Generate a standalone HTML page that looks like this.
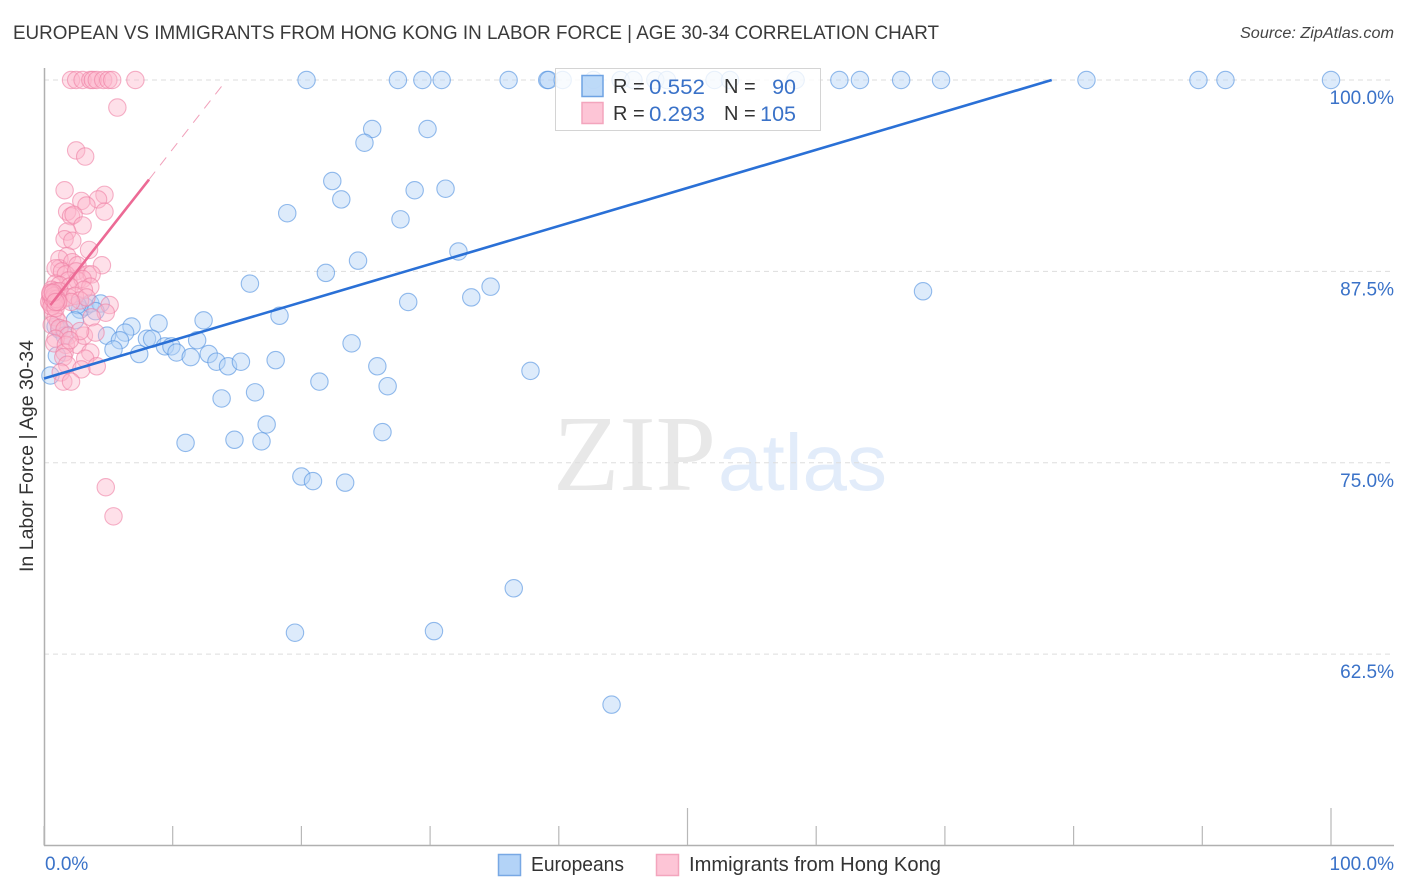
<!DOCTYPE html>
<html>
<head>
<meta charset="utf-8">
<title>European vs Immigrants from Hong Kong in Labor Force | Age 30-34 Correlation Chart</title>
<style>
html,body{margin:0;padding:0;background:#fff;width:1406px;height:892px;overflow:hidden}
svg{display:block}
text{font-family:"Liberation Sans",sans-serif}
</style>
</head>
<body>
<svg id="chart" width="1406" height="892" viewBox="0 0 1406 892" xmlns="http://www.w3.org/2000/svg">
<text x="13" y="39" font-size="19" fill="#3a3a3a" textLength="926" lengthAdjust="spacingAndGlyphs">EUROPEAN VS IMMIGRANTS FROM HONG KONG IN LABOR FORCE | AGE 30-34 CORRELATION CHART</text>
<text x="1394" y="38" font-size="15.5" font-style="italic" fill="#444" text-anchor="end" textLength="154" lengthAdjust="spacingAndGlyphs">Source: ZipAtlas.com</text>
<g id="watermark">
<text x="553" y="490" font-size="108" fill="#e8e8e8" textLength="163" lengthAdjust="spacingAndGlyphs" style="font-family:'Liberation Serif',serif">ZIP</text>
<text x="718" y="490" font-size="80" fill="#e2ecfa" textLength="169" lengthAdjust="spacingAndGlyphs">atlas</text>
</g>
<g id="grid"></g>
<g id="axes"></g>
<g id="points"></g>
<g id="trends"></g>
<g id="legendTop">
<rect x="555.5" y="68.5" width="265" height="62" fill="#fff" fill-opacity="0.8" stroke="#d4d4d4" stroke-width="1"/>
<rect x="582" y="75.5" width="21" height="21" fill="#b3d3f7" fill-opacity="0.85" stroke="#6fa3e3" stroke-width="1.5"/>
<rect x="582" y="102.5" width="21" height="21" fill="#fdc5d6" stroke="#f3a5bd" stroke-width="1.5"/>
<text x="613" y="93" font-size="20" fill="#333">R =</text>
<text x="649" y="94" font-size="21.5" fill="#3a72c8" textLength="56" lengthAdjust="spacingAndGlyphs">0.552</text>
<text x="724" y="93" font-size="20" fill="#333">N =</text>
<text x="796" y="94" font-size="21.5" fill="#3a72c8" text-anchor="end">90</text>
<text x="613" y="120" font-size="20" fill="#333">R =</text>
<text x="649" y="121" font-size="21.5" fill="#3a72c8" textLength="56" lengthAdjust="spacingAndGlyphs">0.293</text>
<text x="724" y="120" font-size="20" fill="#333">N =</text>
<text x="796" y="121" font-size="21.5" fill="#3a72c8" text-anchor="end">105</text>
</g>
<g id="legendBottom">
<rect x="498.5" y="854.5" width="22" height="21" fill="#b3d3f7" stroke="#78a8e4" stroke-width="1.5"/>
<text x="531" y="871" font-size="20" fill="#333" textLength="93" lengthAdjust="spacingAndGlyphs">Europeans</text>
<rect x="656.5" y="854.5" width="22" height="21" fill="#fdc5d6" stroke="#f3a5bd" stroke-width="1.5"/>
<text x="689" y="871" font-size="20" fill="#333" textLength="252" lengthAdjust="spacingAndGlyphs">Immigrants from Hong Kong</text>
</g>
<text transform="translate(33,456) rotate(-90)" font-size="19" fill="#333" text-anchor="middle" textLength="232" lengthAdjust="spacingAndGlyphs">In Labor Force | Age 30-34</text>
</svg>
<script>
const yTickValues = [100, 87.5, 75, 62.5];
const yTickLabels = ['100.0%', '87.5%', '75.0%', '62.5%'];
const xTickValues = [0, 10, 20, 30, 40, 50, 60, 70, 80, 90, 100];
const xEndLabels = ['0.0%', '100.0%'];

const europeansX = [20.4,27.5,29.4,30.9,36.1,39.1,39.2,40.3,42.7,44.8,45.8,47.5,48.4,52.1,53.3,58.4,61.8,63.4,66.6,69.7,81.0,89.7,91.8,100,
25.5,29.8,24.9,22.4,28.8,31.2,23.1,18.9,27.7,32.2,24.4,21.9,16.0,34.7,33.2,28.3,68.3,18.3,12.4,8.9,6.8,6.3,8.0,8.4,4.9,5.9,5.4,7.4,9.4,9.9,10.3,11.4,11.9,12.8,13.4,14.3,15.3,18.0,23.9,25.9,26.7,21.4,37.8,16.4,13.8,17.3,14.8,16.9,11.0,26.3,20.0,20.9,23.4,36.5,19.5,30.3,44.1,
0.5,1.0,1.2,3.2,2.8,3.6,4.4,4.0,2.6,0.9,2.4,1.6];
const europeansY = [100,100,100,100,100,100,100,100,100,100,100,100,100,100,100,100,100,100,100,100,100,100,100,100,
96.8,96.8,95.9,93.4,92.8,92.9,92.2,91.3,90.9,88.8,88.2,87.4,86.7,86.5,85.8,85.5,86.2,84.6,84.3,84.1,83.9,83.5,83.1,83.1,83.3,83.0,82.4,82.1,82.6,82.6,82.2,81.9,83.0,82.1,81.6,81.3,81.6,81.7,82.8,81.3,80.0,80.3,81.0,79.6,79.2,77.5,76.5,76.4,76.3,77.0,74.1,73.8,73.7,66.8,63.9,64.0,59.2,
80.7,82.0,83.7,85.2,85.0,85.4,85.4,84.9,85.3,83.9,84.3,83.3];

const hongKongX = [2.1,2.5,3.0,3.6,3.8,4.1,4.6,5.0,5.3,7.1,
5.7,2.5,3.2,1.6,4.7,4.2,2.9,3.3,4.7,1.8,2.1,2.3,3.0,1.8,1.6,2.2,3.5,1.8,1.2,4.5,1.2,2.2,2.6,0.9,
1.4,1.7,2.5,3.4,3.7,1.9,2.6,3.0,3.6,0.9,1.2,2.0,3.1,
0.6,0.8,0.6,0.9,0.5,0.7,1.0,1.2,1.5,0.5,0.9,1.2,1.9,2.4,2.8,3.3,2.1,5.1,4.8,3.7,
0.7,0.9,1.1,0.6,1.2,1.6,1.9,0.9,0.8,1.7,2.6,3.1,4.0,2.8,1.6,1.5,3.6,3.2,1.8,4.1,2.9,1.3,1.5,2.1,4.8,5.4,2.0,
0.4,0.5,0.6,0.7,0.8,0.9,1.0,1.1,0.5,0.7,0.9];
const hongKongY = [100,100,100,100,100,100,100,100,100,100,
98.2,95.4,95.0,92.8,92.5,92.2,92.1,91.8,91.4,91.4,91.1,91.2,90.5,90.1,89.6,89.5,88.9,88.5,88.3,87.9,87.7,88.1,87.9,87.7,
87.5,87.3,87.5,87.3,87.3,86.9,86.9,87.0,86.5,86.7,86.6,86.5,86.3,
86.3,86.0,85.6,85.6,85.8,85.4,85.4,85.8,85.7,85.4,86.2,86.2,85.8,85.9,85.6,85.8,85.5,85.3,84.8,84.5,
84.8,84.5,84.2,84.0,83.8,83.7,83.3,83.1,82.8,82.7,82.7,83.3,83.5,83.6,82.2,81.9,82.2,81.8,81.4,81.3,81.1,80.9,80.3,80.3,73.4,71.5,83.0,
85.5,86.0,85.2,85.7,85.9,85.1,85.7,85.5,86.1,86.1,85.5];

const europeansTrendX = [0, 78.3];
const europeansTrendY = [80.5, 100];
const hongKongSolidX = [0.5, 8.16];
const hongKongSolidY = [85.3, 93.5];
const hongKongDashX = [8.16, 13.9];
const hongKongDashY = [93.5, 99.7];

const sx = v => 44 + v * 12.87;
const sy = v => 80 + (100 - v) * 15.31;
const NS = 'http://www.w3.org/2000/svg';

function mk(parent, tag, attrs, txt) {
  const el = document.createElementNS(NS, tag);
  for (const k in attrs) el.setAttribute(k, attrs[k]);
  if (txt !== undefined) el.textContent = txt;
  parent.appendChild(el);
  return el;
}

const grid = document.getElementById('grid');
const axes = document.getElementById('axes');
const pts = document.getElementById('points');
const trends = document.getElementById('trends');

yTickValues.forEach((v, i) => {
  const line = mk(grid, 'line', {x1: 44, x2: 1394, y1: sy(v), y2: sy(v), stroke: '#dddddd', 'stroke-width': 1, 'stroke-dasharray': '5 4'});
  
  
  const label = mk(axes, 'text', {x: 1394, y: sy(v) + 24, 'font-size': 19, fill: '#3a72c8', 'text-anchor': 'end'}, yTickLabels[i]);
  
  
});

const yAxis = mk(axes, 'line', {x1: 44.5, x2: 44.5, y1: 68, y2: 846, stroke: '#b0b0b0', 'stroke-width': 1.5});


const xAxis = mk(axes, 'line', {x1: 44, x2: 1394, y1: 845.5, y2: 845.5, stroke: '#b0b0b0', 'stroke-width': 1.5});



xTickValues.forEach(v => {
  const tall = v === 50 || v === 100;
  const tick = mk(axes, 'line', {x1: sx(v), x2: sx(v), y1: tall ? 808 : 826, y2: 845, stroke: '#b8b8b8', 'stroke-width': 1.2});
  
  
});

const xLabelStart = mk(axes, 'text', {x: 45, y: 870, 'font-size': 19, fill: '#3a72c8'}, xEndLabels[0]);


const xLabelEnd = mk(axes, 'text', {x: 1394, y: 870, 'font-size': 19, fill: '#3a72c8', 'text-anchor': 'end'}, xEndLabels[1]);



europeansX.forEach((v, i) => {
  const c = mk(pts, 'circle', {cx: sx(v), cy: sy(europeansY[i]), r: 8.7, fill: '#b3d3f7', 'fill-opacity': 0.45, stroke: '#4f8fe0', 'stroke-opacity': 0.6, 'stroke-width': 1.1});
  
  
});

hongKongX.forEach((v, i) => {
  const c = mk(pts, 'circle', {cx: sx(v), cy: sy(hongKongY[i]), r: 8.7, fill: '#fdb4cb', 'fill-opacity': 0.42, stroke: '#ee7fa3', 'stroke-opacity': 0.6, 'stroke-width': 1.1});
  
  
});

const blueLine = mk(trends, 'line', {x1: sx(europeansTrendX[0]), y1: sy(europeansTrendY[0]), x2: sx(europeansTrendX[1]), y2: sy(europeansTrendY[1]), stroke: '#2a70d6', 'stroke-width': 2.6});


const pinkLine = mk(trends, 'line', {x1: sx(hongKongSolidX[0]), y1: sy(hongKongSolidY[0]), x2: sx(hongKongSolidX[1]), y2: sy(hongKongSolidY[1]), stroke: '#ec6a95', 'stroke-width': 2.6});


const pinkDash = mk(trends, 'line', {x1: sx(hongKongDashX[0]), y1: sy(hongKongDashY[0]), x2: sx(hongKongDashX[1]), y2: sy(hongKongDashY[1]), stroke: '#f1a0ba', 'stroke-width': 1, 'stroke-dasharray': '10 8'});


</script>
</body>
</html>
